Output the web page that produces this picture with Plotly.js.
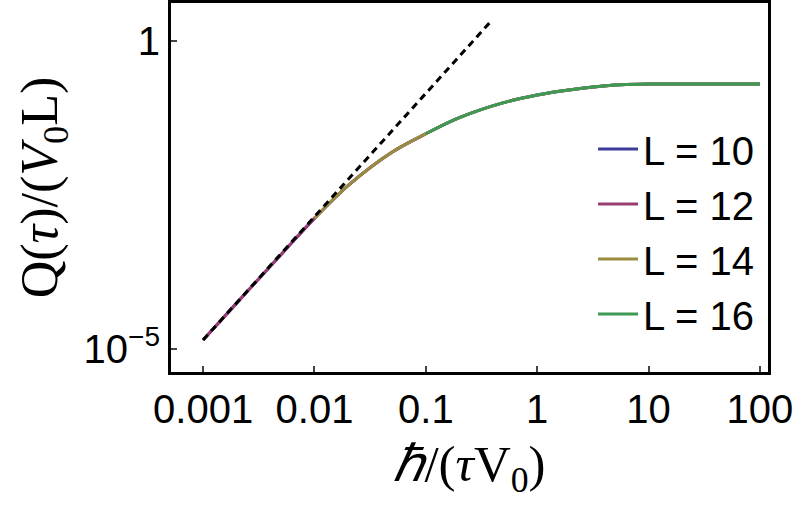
<!DOCTYPE html>
<html>
<head>
<meta charset="utf-8">
<script src="https://cdn.plot.ly/plotly-3.0.1.min.js"></script>
<style>
  body { margin: 0; padding: 0; background: #fff; }
  #chart { width: 797px; height: 508px; }
</style>
</head>
<body>
<div id="chart"></div>
<script>
// x values (hbar / (tau V0)) and Q(tau)/(V0 L)
var xAll = [0.001, 0.002, 0.005, 0.01, 0.02, 0.05, 0.1, 0.2, 0.5, 1, 2, 5, 10, 20, 50, 100];
var qAll = [1.40e-5, 5.56e-5, 3.4e-4, 1.32e-3, 4.5e-3, 0.0158, 0.0312, 0.057, 0.100, 0.133, 0.162, 0.194, 0.200, 0.201, 0.201, 0.201];

// which part of the curve each L covers (later traces sit on top)
var sizes = ["L = 10", "L = 12", "L = 14", "L = 16"];
var startIdx = [0, 0, 3, 6];
var colors = ["#3d3d99", "#993d71", "#998c3d", "#3d9954"];

// dashed guide, slope 2 on log-log axes
var guideX = [0.001, 0.385];
var guideY = [1.40e-5, 2.1];

var data = sizes.map(function (name, i) {
    return {
        x: xAll.slice(startIdx[i]),
        y: qAll.slice(startIdx[i]),
        name: name,
        type: 'scatter',
        mode: 'lines',
        line: { color: colors[i], width: 3, shape: 'spline' }
    };
});

data.push({
    x: guideX,
    y: guideY,
    type: 'scatter',
    mode: 'lines',
    showlegend: false,
    line: { color: 'black', width: 3, dash: '7px,5px' }
});

var layout = {
    width: 797,
    height: 508,
    margin: { l: 171, r: 29, t: 3, b: 136 },
    paper_bgcolor: 'white',
    plot_bgcolor: 'white',
    font: { family: 'Liberation Sans, Arial, sans-serif', color: 'black', size: 40 },
    showlegend: true,
    legend: {
        x: 0.985, xanchor: 'right',
        y: 0.381, yanchor: 'middle',
        bgcolor: 'rgba(0,0,0,0)',
        font: { size: 40 },
        itemwidth: 40
    },
    xaxis: {
        type: 'log',
        range: [-3.288, 2.072],
        tickvals: [0.001, 0.01, 0.1, 1, 10, 100],
        ticktext: ['0.001', '0.01', '0.1', '1', '10', '100'],
        ticks: 'inside', ticklen: 6, tickwidth: 2,
        showline: true, linewidth: 3, linecolor: 'black', mirror: true,
        showgrid: false, zeroline: false,
        title: {
            text: '<i>ℏ</i>/(<i>τ</i>V<sub>0</sub>)',
            font: { family: 'Liberation Serif, Times New Roman, serif', size: 51 },
            standoff: 16
        }
    },
    yaxis: {
        type: 'log',
        range: [-5.373, 0.617],
        tickvals: [1e-5, 1],
        ticktext: ['10<sup>−5</sup>', '1'],
        ticks: 'inside', ticklen: 6, tickwidth: 2,
        showline: true, linewidth: 3, linecolor: 'black', mirror: true,
        showgrid: false, zeroline: false,
        title: {
            text: 'Q(<i>τ</i>)/(<i>V</i><sub>0</sub>L)',
            font: { family: 'Liberation Serif, Times New Roman, serif', size: 52 },
            standoff: 10
        }
    }
};

Plotly.newPlot('chart', data, layout, { staticPlot: true });
</script>
</body>
</html>
